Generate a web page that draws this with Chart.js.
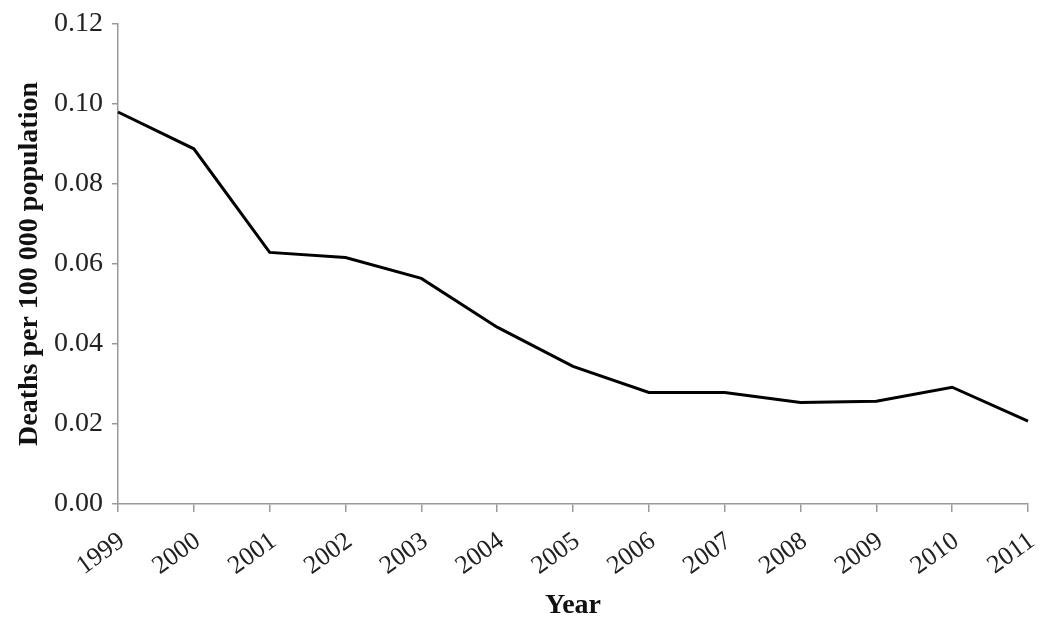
<!DOCTYPE html>
<html>
<head>
<meta charset="utf-8">
<script src="https://cdn.jsdelivr.net/npm/chart.js@4/dist/chart.umd.min.js"></script>
<style>
  html, body { margin: 0; padding: 0; background: #ffffff; }
  #wrap { width: 1050px; height: 623px; position: relative; }
</style>
</head>
<body>
<div id="wrap"><canvas id="c" width="1050" height="623"></canvas></div>
<script>
const years = ['1999','2000','2001','2002','2003','2004','2005','2006','2007','2008','2009','2010','2011'];
const deathRates = [0.098, 0.0888, 0.0629, 0.0616, 0.0564, 0.0442, 0.0344, 0.0279, 0.0279, 0.0254, 0.0257, 0.0292, 0.0207];
const yTickValues = [0, 0.02, 0.04, 0.06, 0.08, 0.10, 0.12];
const xTitle = 'Year';
const yTitle = 'Deaths per 100 000 population';

const serif = "'Liberation Serif', 'Times New Roman', serif";
const axisGrey = '#9a9a9a';

new Chart(document.getElementById('c'), {
  type: 'line',
  data: {
    labels: years,
    datasets: [{
      data: deathRates,
      borderColor: '#000000',
      borderWidth: 3,
      pointRadius: 0,
      tension: 0,
      fill: false
    }]
  },
  options: {
    responsive: false,
    animation: false,
    events: [],
    layout: { padding: { top: 24, right: 22, left: 0, bottom: 0 } },
    plugins: { legend: { display: false }, tooltip: { enabled: false } },
    scales: {
      x: {
        type: 'category',
        offset: false,
        grid: { display: true, drawOnChartArea: false, drawTicks: true, tickLength: 8, color: axisGrey, lineWidth: 1.5 },
        border: { display: true, color: axisGrey, width: 1.5 },
        ticks: {
          color: '#222',
          font: { family: serif, size: 26 },
          minRotation: 36,
          maxRotation: 36,
          autoSkip: false,
          padding: 14,
          labelOffset: 4
        },
        title: {
          display: true,
          text: xTitle,
          color: '#111',
          font: { family: serif, size: 28, weight: 'bold' },
          padding: { top: 8, bottom: 0 }
        },
        afterFit: (s) => { s.height = 119; s.paddingLeft = 0; s.paddingRight = 0; }
      },
      y: {
        min: 0,
        max: 0.12,
        afterBuildTicks: (s) => { s.ticks = yTickValues.map(v => ({ value: v })); },
        grid: { display: true, drawOnChartArea: false, drawTicks: true, tickLength: 6, color: axisGrey, lineWidth: 1.5 },
        border: { display: true, color: axisGrey, width: 1.5 },
        ticks: {
          color: '#222',
          font: { family: serif, size: 28 },
          padding: 9,
          callback: (v) => Number(v).toFixed(2)
        },
        title: {
          display: true,
          text: yTitle,
          color: '#111',
          font: { family: serif, size: 28, weight: 'bold' },
          padding: { top: 13, bottom: 0 }
        },
        afterFit: (s) => { s.width = 118; s.paddingTop = 0; s.paddingBottom = 0; }
      }
    }
  }
});
</script>
</body>
</html>
